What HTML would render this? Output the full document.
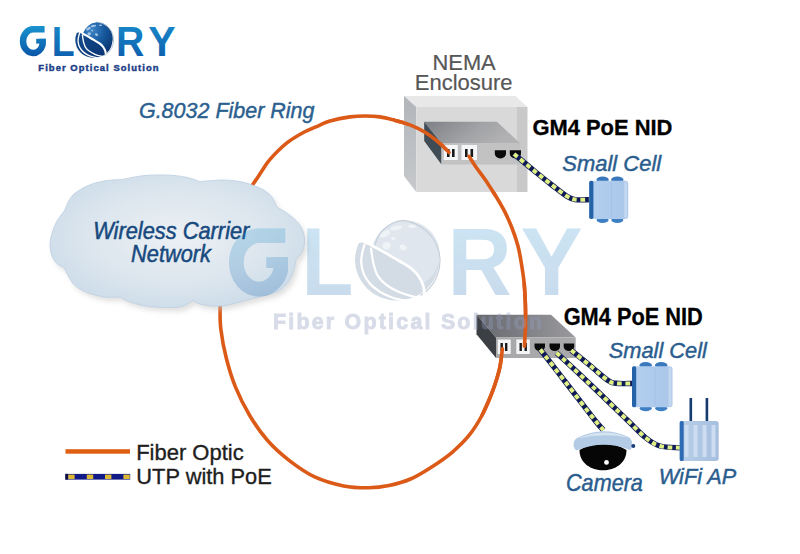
<!DOCTYPE html>
<html><head><meta charset="utf-8"><style>
html,body{margin:0;padding:0;background:#fff;}
svg{display:block;font-family:"Liberation Sans",sans-serif;}
</style></head><body>
<svg width="800" height="554" viewBox="0 0 800 554">
<defs>
<linearGradient id="lgG" gradientUnits="userSpaceOnUse" x1="0" y1="26" x2="0" y2="56"><stop offset="0" stop-color="#1a93cf"/><stop offset="1" stop-color="#0b57a8"/></linearGradient>
<linearGradient id="lg" x1="0" y1="0" x2="0" y2="1"><stop offset="0" stop-color="#1a90cf"/><stop offset="1" stop-color="#0b57a8"/></linearGradient>
<radialGradient id="gsph" cx="0.3" cy="0.25" r="0.85"><stop offset="0" stop-color="#3f86c8"/><stop offset="0.55" stop-color="#15569a"/><stop offset="1" stop-color="#0a3672"/></radialGradient>
<linearGradient id="gleaf" x1="0" y1="0" x2="1" y2="1"><stop offset="0" stop-color="#154f90"/><stop offset="1" stop-color="#0a3270"/></linearGradient>
<radialGradient id="cloudg" cx="0.5" cy="0.47" r="0.62"><stop offset="0" stop-color="#ebf0f4"/><stop offset="0.55" stop-color="#dde6ee"/><stop offset="1" stop-color="#c8dae8"/></radialGradient>
<clipPath id="sphclip" clipPathUnits="userSpaceOnUse"><path d="M70,33.6 L82.6,33.6 L86.5,35.7 L89.8,37.6 L94.6,40.4 L99.6,43.4 L103.2,47.0 L105.3,51.2 L106.0,55.4 L106.2,60 L125,60 L125,10 L70,10 Z"/></clipPath>
<filter id="blur1" x="-20%" y="-20%" width="140%" height="140%"><feGaussianBlur stdDeviation="2.5"/></filter>
<linearGradient id="encl_left" x1="0" y1="0" x2="0" y2="1"><stop offset="0" stop-color="#b2b6bb"/><stop offset="1" stop-color="#c6c8cb"/></linearGradient>
<linearGradient id="dev_top" x1="0" y1="0" x2="1" y2="0.3"><stop offset="0" stop-color="#7c7f84"/><stop offset="0.6" stop-color="#a2a3a6"/><stop offset="1" stop-color="#b2b2b4"/></linearGradient>
<linearGradient id="nid_top" x1="0" y1="0" x2="1" y2="0"><stop offset="0" stop-color="#66686e"/><stop offset="1" stop-color="#9a9a9e"/></linearGradient>
<linearGradient id="scg" x1="0" y1="0" x2="1" y2="0"><stop offset="0" stop-color="#b4cfee"/><stop offset="1" stop-color="#a9c6ea"/></linearGradient>
<linearGradient id="apg" x1="0" y1="0" x2="1" y2="0"><stop offset="0" stop-color="#b8cfe8"/><stop offset="1" stop-color="#a6bfdf"/></linearGradient>
</defs>
<rect width="800" height="554" fill="#ffffff"/>
<g id="logo"><path d="M44.6,29.35 L33.05,29.35 A10,11.8 0 0 0 33.05,52.95 A10,11.8 0 0 0 42.55,44.8 L42.55,38.8" fill="none" stroke="url(#lgG)" stroke-width="6.5" stroke-linejoin="miter"/>
<rect x="36.2" y="38.8" width="9.6" height="4.8" fill="url(#lgG)"/>
<text x="51.78" y="55.7" font-size="42.46" font-weight="bold" font-style="normal" fill="url(#lg)" textLength="22.88" lengthAdjust="spacingAndGlyphs" >L</text>
<text x="116.06" y="55.7" font-size="42.46" font-weight="bold" font-style="normal" fill="url(#lg)" textLength="28.31" lengthAdjust="spacingAndGlyphs" >R</text>
<text x="148.18" y="55.7" font-size="42.46" font-weight="bold" font-style="normal" fill="url(#lg)" textLength="27.42" lengthAdjust="spacingAndGlyphs" >Y</text><ellipse cx="93.9" cy="40.1" rx="18.6" ry="17.8" fill="url(#gleaf)"/>
<path d="M72,33.2 L78.4,32.4 L81.3,33.6 L83.9,34.8 A14.2,14.2 0 0 1 96.3,22.6 L96.3,18 L72,18 Z" fill="#fff"/>
<circle cx="97.6" cy="37.6" r="15" fill="url(#gsph)" clip-path="url(#sphclip)"/>
<ellipse cx="88.5" cy="28.6" rx="2.6" ry="1.3" transform="rotate(-30 88.5 28.6)" fill="#b8d4ee" opacity="0.85"/>
<ellipse cx="93.5" cy="26.0" rx="2.8" ry="1.0" transform="rotate(-10 93.5 26.0)" fill="#b8d4ee" opacity="0.85"/>
<ellipse cx="89.2" cy="33.8" rx="1.8" ry="1.6" transform="rotate(0 89.2 33.8)" fill="#b8d4ee" opacity="0.85"/>
<ellipse cx="96.5" cy="34.6" rx="1.6" ry="1.2" transform="rotate(20 96.5 34.6)" fill="#b8d4ee" opacity="0.85"/>
<ellipse cx="100.5" cy="25.2" rx="1.8" ry="0.8" transform="rotate(0 100.5 25.2)" fill="#b8d4ee" opacity="0.85"/>
<ellipse cx="92.2" cy="30.6" rx="1.0" ry="0.8" transform="rotate(0 92.2 30.6)" fill="#b8d4ee" opacity="0.85"/>
<path d="M82.60,33.60 C83.25,33.95 85.30,35.03 86.50,35.70 C87.70,36.37 88.45,36.82 89.80,37.60 C91.15,38.38 92.97,39.43 94.60,40.40 C96.23,41.37 98.17,42.30 99.60,43.40 C101.03,44.50 102.25,45.70 103.20,47.00 C104.15,48.30 104.83,49.80 105.30,51.20 C105.77,52.60 105.85,54.18 106.00,55.40 C106.15,56.62 106.17,57.98 106.20,58.50" fill="none" stroke="#fff" stroke-width="2.1"/>
<path d="M82.30,34.60 C82.40,35.25 82.68,37.22 82.90,38.50 C83.12,39.78 83.17,40.83 83.60,42.30 C84.03,43.77 84.52,45.80 85.50,47.30 C86.48,48.80 87.92,50.13 89.50,51.30 C91.08,52.47 93.08,53.48 95.00,54.30 C96.92,55.12 99.50,55.82 101.00,56.20 C102.50,56.58 103.50,56.53 104.00,56.60" fill="none" stroke="#fff" stroke-width="1.35"/>
<path d="M79.60,33.00 C79.40,33.75 78.65,36.07 78.40,37.50 C78.15,38.93 77.97,40.13 78.10,41.60 C78.23,43.07 78.53,44.78 79.20,46.30 C79.87,47.82 80.87,49.37 82.10,50.70 C83.33,52.03 84.95,53.30 86.60,54.30 C88.25,55.30 90.18,56.10 92.00,56.70 C93.82,57.30 96.00,57.65 97.50,57.90 C99.00,58.15 100.42,58.15 101.00,58.20" fill="none" stroke="#fff" stroke-width="1.35"/>
<path d="M97.2,21.9 A19.0,18.2 0 0 1 104.2,55.7" fill="none" stroke="#b4c2d4" stroke-width="0.9"/><text x="38.34" y="71" font-size="9.42" font-weight="bold" font-style="normal" fill="#1b3d86" textLength="120.12" lengthAdjust="spacing"  stroke="#1b3d86" stroke-width="0.45">Fiber Optical Solution</text></g>
<path d="M238.00,205.00 C240.58,201.42 249.50,189.20 253.50,183.50 C257.50,177.80 259.25,174.82 262.00,170.80 C264.75,166.78 265.95,163.97 270.00,159.40 C274.05,154.83 280.88,147.80 286.30,143.40 C291.72,139.00 297.08,135.97 302.50,133.00 C307.92,130.03 314.22,127.60 318.80,125.60 C323.38,123.60 324.80,122.45 330.00,121.00 C335.20,119.55 344.17,117.73 350.00,116.90 C355.83,116.07 360.00,116.00 365.00,116.00 C370.00,116.00 375.00,116.17 380.00,116.90 C385.00,117.63 390.00,119.07 395.00,120.40 C400.00,121.73 405.00,122.92 410.00,124.90 C415.00,126.88 420.00,129.20 425.00,132.30 C430.00,135.40 436.00,140.13 440.00,143.50 C444.00,146.87 447.50,151.00 449.00,152.50" fill="none" stroke="#dc5a18" stroke-width="3.6" stroke-linecap="round"/>
<path d="M469.00,156.30 C470.22,158.17 473.53,163.52 476.30,167.50 C479.07,171.48 482.43,175.57 485.60,180.20 C488.77,184.83 492.13,190.10 495.30,195.30 C498.47,200.50 501.82,205.95 504.60,211.40 C507.38,216.85 509.78,222.28 512.00,228.00 C514.22,233.72 516.38,240.08 517.90,245.70 C519.42,251.32 520.05,255.42 521.10,261.70 C522.15,267.98 523.48,276.18 524.20,283.40 C524.92,290.62 525.18,297.78 525.40,305.00 C525.62,312.22 525.67,319.83 525.50,326.70 C525.33,333.57 524.58,342.95 524.40,346.20" fill="none" stroke="#dc5a18" stroke-width="3.6" stroke-linecap="round"/>
<path d="M502.40,348.70 C501.92,352.05 501.18,361.60 499.50,368.80 C497.82,376.00 495.18,384.20 492.30,391.90 C489.42,399.60 486.05,407.78 482.20,415.00 C478.35,422.22 474.25,428.95 469.20,435.20 C464.15,441.45 458.15,447.22 451.90,452.50 C445.65,457.78 438.60,462.48 431.70,466.90 C424.80,471.32 417.62,475.90 410.50,479.00 C403.38,482.10 395.95,484.05 389.00,485.50 C382.05,486.95 376.37,487.63 368.80,487.70 C361.23,487.77 352.62,487.70 343.60,485.90 C334.58,484.10 323.73,481.12 314.70,476.90 C305.67,472.68 297.22,466.62 289.40,460.60 C281.58,454.58 274.42,448.32 267.80,440.80 C261.18,433.28 255.12,424.53 249.70,415.50 C244.28,406.47 239.22,396.22 235.30,386.60 C231.38,376.98 228.62,367.42 226.20,357.80 C223.78,348.18 221.82,337.33 220.80,328.90 C219.78,320.47 220.15,313.68 220.10,307.20 C220.05,300.72 220.43,292.87 220.50,290.00" fill="none" stroke="#dc5a18" stroke-width="3.6" stroke-linecap="round"/>
<path d="M64.50,210.50 C63.25,212.25 59.08,217.25 57.00,221.00 C54.92,224.75 53.17,229.00 52.00,233.00 C50.83,237.00 50.00,241.17 50.00,245.00 C50.00,248.83 50.83,252.92 52.00,256.00 C53.17,259.08 54.92,261.50 57.00,263.50 C59.08,265.50 63.25,267.25 64.50,268.00 C65.08,269.25 66.25,272.58 68.00,275.50 C69.75,278.42 71.79,282.67 75.00,285.50 C78.21,288.33 82.29,290.58 87.25,292.50 C92.21,294.42 99.21,296.27 104.75,297.00 C110.29,297.73 117.88,296.92 120.50,296.90 C121.67,297.58 123.42,299.52 127.50,301.00 C131.58,302.48 138.58,304.70 145.00,305.80 C151.42,306.90 159.83,307.48 166.00,307.60 C172.17,307.72 177.54,307.70 182.00,306.50 C186.46,305.30 190.96,301.42 192.75,300.40 C194.29,301.08 197.04,303.60 202.00,304.50 C206.96,305.40 214.42,306.72 222.50,305.80 C230.58,304.88 241.75,301.22 250.50,299.00 C259.25,296.78 269.08,294.92 275.00,292.50 C280.92,290.08 283.00,287.75 286.00,284.50 C289.00,281.25 291.33,277.17 293.00,273.00 C294.67,268.83 295.50,261.75 296.00,259.50 C297.08,258.08 301.07,254.25 302.50,251.00 C303.93,247.75 304.68,243.67 304.60,240.00 C304.52,236.33 303.43,232.25 302.00,229.00 C300.57,225.75 298.67,223.25 296.00,220.50 C293.33,217.75 289.21,214.75 286.00,212.50 C282.79,210.25 278.29,207.92 276.75,207.00 C275.88,205.25 273.83,199.42 271.50,196.50 C269.17,193.58 265.96,191.42 262.75,189.50 C259.54,187.58 256.04,186.32 252.25,185.00 C248.46,183.68 244.96,182.43 240.00,181.60 C235.04,180.77 229.21,180.00 222.50,180.00 C215.79,180.00 203.54,181.33 199.75,181.60 C197.71,180.93 192.46,178.67 187.50,177.60 C182.54,176.53 177.08,175.55 170.00,175.20 C162.92,174.85 153.00,174.78 145.00,175.50 C137.00,176.22 125.83,178.83 122.00,179.50 C119.17,179.72 110.83,179.72 105.00,180.80 C99.17,181.88 92.50,183.47 87.00,186.00 C81.50,188.53 75.75,191.92 72.00,196.00 C68.25,200.08 65.75,208.08 64.50,210.50 Z" fill="#c8c8c8" opacity="0.55" transform="translate(3,4)" filter="url(#blur1)"/>
<path d="M64.50,210.50 C63.25,212.25 59.08,217.25 57.00,221.00 C54.92,224.75 53.17,229.00 52.00,233.00 C50.83,237.00 50.00,241.17 50.00,245.00 C50.00,248.83 50.83,252.92 52.00,256.00 C53.17,259.08 54.92,261.50 57.00,263.50 C59.08,265.50 63.25,267.25 64.50,268.00 C65.08,269.25 66.25,272.58 68.00,275.50 C69.75,278.42 71.79,282.67 75.00,285.50 C78.21,288.33 82.29,290.58 87.25,292.50 C92.21,294.42 99.21,296.27 104.75,297.00 C110.29,297.73 117.88,296.92 120.50,296.90 C121.67,297.58 123.42,299.52 127.50,301.00 C131.58,302.48 138.58,304.70 145.00,305.80 C151.42,306.90 159.83,307.48 166.00,307.60 C172.17,307.72 177.54,307.70 182.00,306.50 C186.46,305.30 190.96,301.42 192.75,300.40 C194.29,301.08 197.04,303.60 202.00,304.50 C206.96,305.40 214.42,306.72 222.50,305.80 C230.58,304.88 241.75,301.22 250.50,299.00 C259.25,296.78 269.08,294.92 275.00,292.50 C280.92,290.08 283.00,287.75 286.00,284.50 C289.00,281.25 291.33,277.17 293.00,273.00 C294.67,268.83 295.50,261.75 296.00,259.50 C297.08,258.08 301.07,254.25 302.50,251.00 C303.93,247.75 304.68,243.67 304.60,240.00 C304.52,236.33 303.43,232.25 302.00,229.00 C300.57,225.75 298.67,223.25 296.00,220.50 C293.33,217.75 289.21,214.75 286.00,212.50 C282.79,210.25 278.29,207.92 276.75,207.00 C275.88,205.25 273.83,199.42 271.50,196.50 C269.17,193.58 265.96,191.42 262.75,189.50 C259.54,187.58 256.04,186.32 252.25,185.00 C248.46,183.68 244.96,182.43 240.00,181.60 C235.04,180.77 229.21,180.00 222.50,180.00 C215.79,180.00 203.54,181.33 199.75,181.60 C197.71,180.93 192.46,178.67 187.50,177.60 C182.54,176.53 177.08,175.55 170.00,175.20 C162.92,174.85 153.00,174.78 145.00,175.50 C137.00,176.22 125.83,178.83 122.00,179.50 C119.17,179.72 110.83,179.72 105.00,180.80 C99.17,181.88 92.50,183.47 87.00,186.00 C81.50,188.53 75.75,191.92 72.00,196.00 C68.25,200.08 65.75,208.08 64.50,210.50 Z" fill="url(#cloudg)" stroke="#bccfe2" stroke-width="0.8"/>
<text x="93.14" y="238.6" font-size="23.19" font-weight="normal" font-style="italic" fill="#17497e" textLength="156.27" lengthAdjust="spacingAndGlyphs"  stroke="#17497e" stroke-width="0.5">Wireless Carrier</text>
<text x="131.1" y="261.9" font-size="23.19" font-weight="normal" font-style="italic" fill="#17497e" textLength="79.9" lengthAdjust="spacingAndGlyphs"  stroke="#17497e" stroke-width="0.5">Network</text>
<g id="encl">
<polygon points="404,96 515.5,96 527.5,107 416.3,107" fill="#e8e8e8"/>
<polygon points="404,96 416.3,107 416.3,192 404,176" fill="url(#encl_left)"/>
<rect x="416.3" y="107" width="100.7" height="85" fill="#d9d9d9"/>
<rect x="517" y="107" width="10.5" height="85" fill="#c9c9c9"/>
<polygon points="424.2,121.8 497,121.8 520.3,143.5 441.5,143.5" fill="url(#dev_top)"/>
<polygon points="424.2,121.8 441.5,143.5 441.5,164.5 424.2,141" fill="#3f4b55"/>
<rect x="441.5" y="143.5" width="78.8" height="21" fill="#c2c2c2"/>
<rect x="443.8" y="145" width="14" height="15" fill="#f4f6f8"/>
<rect x="461.5" y="145" width="15.5" height="15" fill="#f4f6f8"/>
<rect x="447" y="149" width="2.6" height="8" fill="#1a1a1a"/><rect x="452" y="149" width="2.6" height="8" fill="#1a1a1a"/>
<rect x="465" y="149" width="2.6" height="8" fill="#1a1a1a"/><rect x="470.5" y="149" width="2.6" height="8" fill="#1a1a1a"/>
<path d="M494.8,150.3 h11.2 v3.5 a5.6,4.7 0 0 1 -11.2,0 z" fill="#0a0a0a"/>
<path d="M509.8,150.3 h11.2 v3.5 a5.6,4.7 0 0 1 -11.2,0 z" fill="#0a0a0a"/>
</g>
<g id="nid">
<polygon points="476.5,314.8 551,314.8 575.7,337.5 496,337.5" fill="url(#nid_top)"/>
<polygon points="476.5,314.8 496,337.5 496,358 476.5,334.3" fill="#3c3f44"/>
<rect x="496" y="337.5" width="79.7" height="20.5" fill="#a9a9ab"/>
<rect x="497.7" y="339.5" width="13" height="14.5" fill="#f2f4f6"/>
<rect x="516.3" y="339.5" width="13.5" height="14.5" fill="#f2f4f6"/>
<rect x="500.5" y="343" width="2.4" height="8" fill="#1a1a1a"/><rect x="505" y="343" width="2.4" height="8" fill="#1a1a1a"/>
<rect x="519.5" y="343" width="2.4" height="8" fill="#1a1a1a"/><rect x="524.5" y="343" width="2.4" height="8" fill="#1a1a1a"/>
<path d="M534.5,343.5 h10.5 v3 a5.25,4.5 0 0 1 -10.5,0 z" fill="#0a0a0a"/>
<path d="M549.5,343.5 h10.5 v3 a5.25,4.5 0 0 1 -10.5,0 z" fill="#0a0a0a"/>
<path d="M563.7,343.5 h10.5 v3 a5.25,4.5 0 0 1 -10.5,0 z" fill="#0a0a0a"/>
</g>
<path d="M395.00,120.40 C397.50,121.15 405.00,122.92 410.00,124.90 C415.00,126.88 420.00,129.20 425.00,132.30 C430.00,135.40 436.00,140.13 440.00,143.50 C444.00,146.87 447.50,151.00 449.00,152.50" fill="none" stroke="#dc5a18" stroke-width="3.6" stroke-linecap="round"/>
<path d="M469.00,156.30 C470.22,158.17 473.53,163.52 476.30,167.50 C479.07,171.48 482.43,175.57 485.60,180.20 C488.77,184.83 493.68,192.78 495.30,195.30" fill="none" stroke="#dc5a18" stroke-width="3.6" stroke-linecap="round"/>
<path d="M524.20,283.40 C524.40,287.00 525.18,297.78 525.40,305.00 C525.62,312.22 525.67,319.83 525.50,326.70 C525.33,333.57 524.58,342.95 524.40,346.20" fill="none" stroke="#dc5a18" stroke-width="3.6" stroke-linecap="round"/>
<path d="M502.40,348.70 C501.92,352.05 501.18,361.60 499.50,368.80 C497.82,376.00 495.18,384.20 492.30,391.90 C489.42,399.60 483.88,411.15 482.20,415.00" fill="none" stroke="#dc5a18" stroke-width="3.6" stroke-linecap="round"/>
<path d="M514.00,154.00 C517.50,156.92 528.58,166.25 535.00,171.50 C541.42,176.75 547.25,181.42 552.50,185.50 C557.75,189.58 562.75,193.65 566.50,196.00 C570.25,198.35 571.08,199.00 575.00,199.60 C578.92,200.20 587.50,199.60 590.00,199.60" fill="none" stroke="#0f1a58" stroke-width="5.4" stroke-linecap="butt" stroke-linejoin="round"/><path d="M514.00,154.00 C517.50,156.92 528.58,166.25 535.00,171.50 C541.42,176.75 547.25,181.42 552.50,185.50 C557.75,189.58 562.75,193.65 566.50,196.00 C570.25,198.35 571.08,199.00 575.00,199.60 C578.92,200.20 587.50,199.60 590.00,199.60" fill="none" stroke="#e0f083" stroke-width="4.0" stroke-dasharray="4.6 3.6" stroke-dashoffset="0" stroke-linejoin="round"/>
<path d="M540.30,349.50 C544.75,355.25 557.93,372.25 567.00,384.00 C576.07,395.75 588.63,412.33 594.70,420.00 C600.77,427.67 601.95,428.33 603.40,430.00" fill="none" stroke="#0f1a58" stroke-width="5.4" stroke-linecap="butt" stroke-linejoin="round"/><path d="M540.30,349.50 C544.75,355.25 557.93,372.25 567.00,384.00 C576.07,395.75 588.63,412.33 594.70,420.00 C600.77,427.67 601.95,428.33 603.40,430.00" fill="none" stroke="#e0f083" stroke-width="4.0" stroke-dasharray="4.6 3.6" stroke-dashoffset="0" stroke-linejoin="round"/>
<path d="M556.50,352.70 C562.42,358.25 580.22,374.78 592.00,386.00 C603.78,397.22 618.20,411.33 627.20,420.00 C636.20,428.67 640.53,433.67 646.00,438.00 C651.47,442.33 654.33,444.37 660.00,446.00 C665.67,447.63 676.67,447.50 680.00,447.80" fill="none" stroke="#0f1a58" stroke-width="5.4" stroke-linecap="butt" stroke-linejoin="round"/><path d="M556.50,352.70 C562.42,358.25 580.22,374.78 592.00,386.00 C603.78,397.22 618.20,411.33 627.20,420.00 C636.20,428.67 640.53,433.67 646.00,438.00 C651.47,442.33 654.33,444.37 660.00,446.00 C665.67,447.63 676.67,447.50 680.00,447.80" fill="none" stroke="#e0f083" stroke-width="4.0" stroke-dasharray="4.6 3.6" stroke-dashoffset="0" stroke-linejoin="round"/>
<path d="M571.20,350.30 C574.33,352.83 583.92,360.50 590.00,365.50 C596.08,370.50 603.37,377.33 607.70,380.30 C612.03,383.27 611.95,382.77 616.00,383.30 C620.05,383.83 629.33,383.47 632.00,383.50" fill="none" stroke="#0f1a58" stroke-width="5.4" stroke-linecap="butt" stroke-linejoin="round"/><path d="M571.20,350.30 C574.33,352.83 583.92,360.50 590.00,365.50 C596.08,370.50 603.37,377.33 607.70,380.30 C612.03,383.27 611.95,382.77 616.00,383.30 C620.05,383.83 629.33,383.47 632.00,383.50" fill="none" stroke="#e0f083" stroke-width="4.0" stroke-dasharray="4.6 3.6" stroke-dashoffset="0" stroke-linejoin="round"/>
<ellipse cx="602.6" cy="179.8" rx="6.2" ry="3.2" fill="#3a78bd"/>
<ellipse cx="602.6" cy="219.89999999999998" rx="6.0" ry="3.0" fill="#3f7fc4"/>
<ellipse cx="617.3" cy="179.8" rx="6.2" ry="3.2" fill="#3a78bd"/>
<ellipse cx="617.3" cy="219.89999999999998" rx="6.0" ry="3.0" fill="#3f7fc4"/>
<rect x="589.2" y="180.7" width="39" height="38.300000000000004" rx="3" fill="url(#scg)"/>
<rect x="589.2" y="180.7" width="4.2" height="38.300000000000004" rx="1.8" fill="#2563a8"/>
<rect x="624.2" y="181.5" width="3" height="36.7" rx="1.5" fill="#c3d7ef"/>
<line x1="611.4" y1="182.5" x2="611.4" y2="217.2" stroke="#a3bfe0" stroke-width="0.8"/>
<ellipse cx="645.7" cy="365.3" rx="6.2" ry="3.2" fill="#3a78bd"/>
<ellipse cx="645.7" cy="408.2" rx="6.0" ry="3.0" fill="#3f7fc4"/>
<ellipse cx="661.2" cy="365.3" rx="6.2" ry="3.2" fill="#3a78bd"/>
<ellipse cx="661.2" cy="408.2" rx="6.0" ry="3.0" fill="#3f7fc4"/>
<rect x="632" y="366.2" width="40.5" height="41.1" rx="3" fill="url(#scg)"/>
<rect x="632" y="366.2" width="4.2" height="41.1" rx="1.8" fill="#2563a8"/>
<rect x="668.5" y="367.0" width="3" height="39.5" rx="1.5" fill="#c3d7ef"/>
<line x1="655.1" y1="368.0" x2="655.1" y2="405.5" stroke="#a3bfe0" stroke-width="0.8"/>
<g id="ap">
<rect x="689.5" y="398" width="2.6" height="24" fill="#153a6e"/>
<rect x="705.6" y="398" width="2.6" height="24" fill="#153a6e"/>
<rect x="679.7" y="421" width="39" height="40" rx="3" fill="url(#apg)"/>
<rect x="679.7" y="421" width="4" height="40" rx="1.5" fill="#2d6cb4"/>
<rect x="684.5" y="425" width="4" height="32" fill="#cddcf0"/>
<rect x="693.5" y="425" width="4" height="32" fill="#cddcf0"/>
<rect x="702.5" y="425" width="4" height="32" fill="#cddcf0"/>
<rect x="711.5" y="425" width="4" height="32" fill="#cddcf0"/>
</g>
<g id="cam">
<path d="M579.5,450 Q603,436 626.5,450 C626.5,477 579.5,477 579.5,450 Z" fill="#060606"/>
<path d="M576.5,450.5 C572.5,448 572.5,441 577,438 Q603,425 628.5,437 C633,439.5 633.5,447 630,450 Q603,439.5 576.5,450.5 Z" fill="#b3cbe5"/>
<path d="M578,438.5 Q603,427 628,437.5 Q603,432.5 578,438.5 Z" fill="#d6e4f2"/>
<circle cx="633.3" cy="446" r="2" fill="#1b3f7a"/>
<circle cx="606.5" cy="462.4" r="2.4" fill="#ffffff"/>
</g>
<text x="138.93" y="118.1" font-size="22.75" font-weight="normal" font-style="italic" fill="#2b5f8f" textLength="175.61" lengthAdjust="spacingAndGlyphs"  stroke="#2b5f8f" stroke-width="0.45">G.8032 Fiber Ring</text>
<text x="432.55" y="69.95" font-size="21.38" font-weight="normal" font-style="normal" fill="#575757" textLength="63.13" lengthAdjust="spacingAndGlyphs"  stroke="#575757" stroke-width="0.2">NEMA</text>
<text x="414.74" y="89.7" font-size="21.88" font-weight="normal" font-style="normal" fill="#575757" textLength="97.79" lengthAdjust="spacingAndGlyphs"  stroke="#575757" stroke-width="0.2">Enclosure</text>
<text x="532.42" y="134.9" font-size="21.88" font-weight="bold" font-style="normal" fill="#000000" textLength="140.05" lengthAdjust="spacingAndGlyphs"  stroke="#000000" stroke-width="0.3">GM4 PoE NID</text>
<text x="563.63" y="324.75" font-size="23.55" font-weight="bold" font-style="normal" fill="#000000" textLength="139.24" lengthAdjust="spacingAndGlyphs"  stroke="#000000" stroke-width="0.3">GM4 PoE NID</text>
<text x="562.34" y="171.3" font-size="22.9" font-weight="normal" font-style="italic" fill="#2a5d8e" textLength="98.84" lengthAdjust="spacingAndGlyphs"  stroke="#2a5d8e" stroke-width="0.45">Small Cell</text>
<text x="608.64" y="358.2" font-size="22.9" font-weight="normal" font-style="italic" fill="#2a5d8e" textLength="98.34" lengthAdjust="spacingAndGlyphs"  stroke="#2a5d8e" stroke-width="0.45">Small Cell</text>
<text x="566.0" y="490.6" font-size="23.19" font-weight="normal" font-style="italic" fill="#2a5d8e" textLength="76.89" lengthAdjust="spacingAndGlyphs"  stroke="#2a5d8e" stroke-width="0.45">Camera</text>
<text x="658.8" y="484.2" font-size="22.9" font-weight="normal" font-style="italic" fill="#2a5d8e" textLength="77.41" lengthAdjust="spacingAndGlyphs"  stroke="#2a5d8e" stroke-width="0.45">WiFi AP</text>
<text x="136.14" y="460.3" font-size="22.17" font-weight="normal" font-style="normal" fill="#1e1e1e" textLength="107.62" lengthAdjust="spacingAndGlyphs"  stroke="#1e1e1e" stroke-width="0.35">Fiber Optic</text>
<text x="136.36" y="483.6" font-size="22.32" font-weight="normal" font-style="normal" fill="#1e1e1e" textLength="135.35" lengthAdjust="spacingAndGlyphs"  stroke="#1e1e1e" stroke-width="0.35">UTP with PoE</text>
<rect x="65.5" y="449.2" width="64.5" height="4.5" fill="#df5f12"/>
<rect x="65.4" y="473.9" width="64.8" height="5.7" fill="#121a86"/>
<rect x="65.4" y="473.9" width="2.4" height="5.7" fill="#0a0e3a"/>
<rect x="68.2" y="474.6" width="6.4" height="4.4" fill="#dcb935"/>
<rect x="86.8" y="474.6" width="6.4" height="4.4" fill="#dcb935"/>
<rect x="105.0" y="474.6" width="6.4" height="4.4" fill="#dcb935"/>
<rect x="123.4" y="474.6" width="6.4" height="4.4" fill="#dcb935"/>
<g opacity="0.22" transform="translate(184.03,169.03) scale(2.27)"><path d="M44.6,29.35 L33.05,29.35 A10,11.8 0 0 0 33.05,52.95 A10,11.8 0 0 0 42.55,44.8 L42.55,38.8" fill="none" stroke="url(#lgG)" stroke-width="6.5" stroke-linejoin="miter"/>
<rect x="36.2" y="38.8" width="9.6" height="4.8" fill="url(#lgG)"/>
<text x="51.78" y="55.7" font-size="42.46" font-weight="bold" font-style="normal" fill="url(#lg)" textLength="22.88" lengthAdjust="spacingAndGlyphs" >L</text>
<text x="116.06" y="55.7" font-size="42.46" font-weight="bold" font-style="normal" fill="url(#lg)" textLength="28.31" lengthAdjust="spacingAndGlyphs" >R</text>
<text x="148.18" y="55.7" font-size="42.46" font-weight="bold" font-style="normal" fill="url(#lg)" textLength="27.42" lengthAdjust="spacingAndGlyphs" >Y</text></g>
<g transform="translate(184.03,169.03) scale(2.27)"><ellipse cx="93.9" cy="40.1" rx="18.6" ry="17.8" fill="#d3dbe4"/>
<path d="M72,33.2 L78.4,32.4 L81.3,33.6 L83.9,34.8 A14.2,14.2 0 0 1 96.3,22.6 L96.3,18 L72,18 Z" fill="#fff"/>
<circle cx="97.6" cy="37.6" r="15" fill="#dfe6ed" clip-path="url(#sphclip)"/>
<ellipse cx="88.5" cy="28.6" rx="2.6" ry="1.3" transform="rotate(-30 88.5 28.6)" fill="#f0f4f8" opacity="0.85"/>
<ellipse cx="93.5" cy="26.0" rx="2.8" ry="1.0" transform="rotate(-10 93.5 26.0)" fill="#f0f4f8" opacity="0.85"/>
<ellipse cx="89.2" cy="33.8" rx="1.8" ry="1.6" transform="rotate(0 89.2 33.8)" fill="#f0f4f8" opacity="0.85"/>
<ellipse cx="96.5" cy="34.6" rx="1.6" ry="1.2" transform="rotate(20 96.5 34.6)" fill="#f0f4f8" opacity="0.85"/>
<ellipse cx="100.5" cy="25.2" rx="1.8" ry="0.8" transform="rotate(0 100.5 25.2)" fill="#f0f4f8" opacity="0.85"/>
<ellipse cx="92.2" cy="30.6" rx="1.0" ry="0.8" transform="rotate(0 92.2 30.6)" fill="#f0f4f8" opacity="0.85"/>
<path d="M83.9,34.8 A14.2,14.2 0 0 1 96.3,22.6 A18.9,18.1 0 0 1 104.2,55.7" fill="none" stroke="#c6cfda" stroke-width="0.5"/>
<path d="M82.60,33.60 C83.25,33.95 85.30,35.03 86.50,35.70 C87.70,36.37 88.45,36.82 89.80,37.60 C91.15,38.38 92.97,39.43 94.60,40.40 C96.23,41.37 98.17,42.30 99.60,43.40 C101.03,44.50 102.25,45.70 103.20,47.00 C104.15,48.30 104.83,49.80 105.30,51.20 C105.77,52.60 105.85,54.18 106.00,55.40 C106.15,56.62 106.17,57.98 106.20,58.50" fill="none" stroke="#fff" stroke-width="1.2"/>
<path d="M82.30,34.60 C82.40,35.25 82.68,37.22 82.90,38.50 C83.12,39.78 83.17,40.83 83.60,42.30 C84.03,43.77 84.52,45.80 85.50,47.30 C86.48,48.80 87.92,50.13 89.50,51.30 C91.08,52.47 93.08,53.48 95.00,54.30 C96.92,55.12 99.50,55.82 101.00,56.20 C102.50,56.58 103.50,56.53 104.00,56.60" fill="none" stroke="#fff" stroke-width="1.0"/>
<path d="M79.60,33.00 C79.40,33.75 78.65,36.07 78.40,37.50 C78.15,38.93 77.97,40.13 78.10,41.60 C78.23,43.07 78.53,44.78 79.20,46.30 C79.87,47.82 80.87,49.37 82.10,50.70 C83.33,52.03 84.95,53.30 86.60,54.30 C88.25,55.30 90.18,56.10 92.00,56.70 C93.82,57.30 96.00,57.65 97.50,57.90 C99.00,58.15 100.42,58.15 101.00,58.20" fill="none" stroke="#fff" stroke-width="1.0"/></g>
<text x="273" y="329" font-size="21.38" font-weight="bold" fill="#949fc0" stroke="#949fc0" stroke-width="0.9" opacity="0.36" textLength="269" lengthAdjust="spacing">Fiber Optical Solution</text>
</svg>
</body></html>
